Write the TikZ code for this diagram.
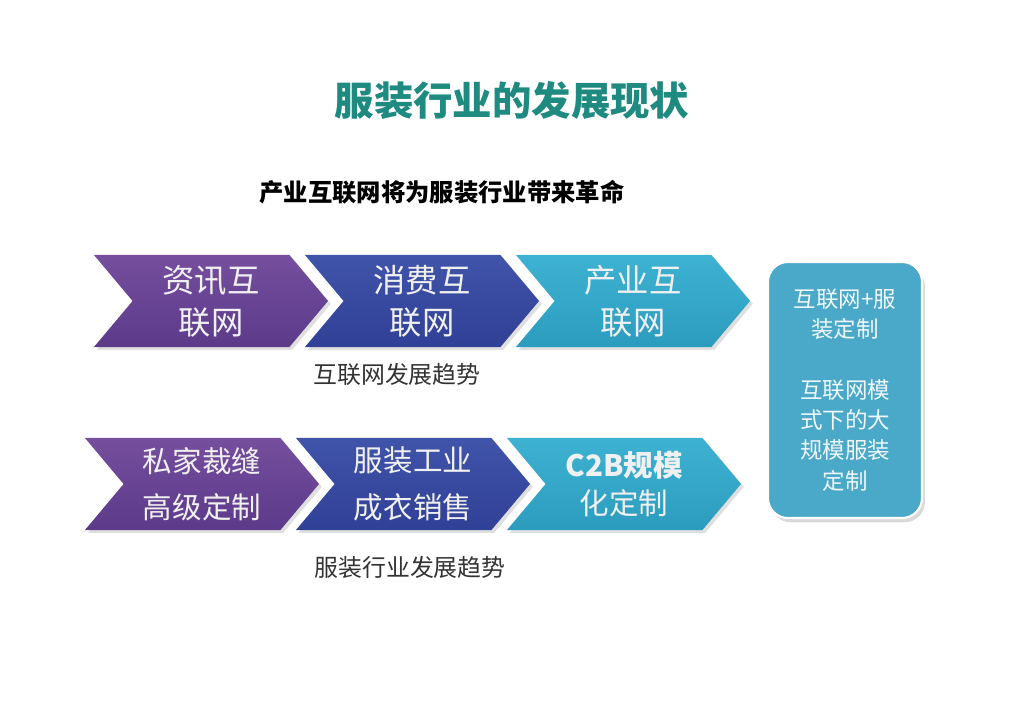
\documentclass[tikz,border=0pt]{standalone}
\usepackage{fontspec}
\setmainfont{Noto Sans CJK SC}
\usepackage{xcolor}
\usepackage{tikz}
\usetikzlibrary{positioning, shapes.symbols, shadows}
\definecolor{titleteal}{RGB}{30,138,128}
\definecolor{chvpurple}{RGB}{118,78,158}
\definecolor{chvpurpledk}{RGB}{92,58,138}
\definecolor{chvblue}{RGB}{64,84,170}
\definecolor{chvbluedk}{RGB}{48,64,150}
\definecolor{chvcyan}{RGB}{62,178,210}
\definecolor{chvcyandk}{RGB}{44,156,190}
\definecolor{boxcyan}{RGB}{74,168,200}

\begin{document}
\begin{tikzpicture}[x=0.025cm, y=-0.025cm,
    chevron/.style={shape=signal, signal to=east, signal from=west,
      signal pointer angle=100, minimum width=5.85cm, minimum height=2.3cm,
      inner sep=0pt, text=white!94!black, align=center,
      drop shadow={opacity=0.25, shadow xshift=2pt, shadow yshift=-2pt}},
    bigtxt/.style={font=\fontsize{23}{30}\selectfont},
    smalltxt/.style={font=\fontsize{21}{33}\selectfont},
    caption/.style={font=\fontsize{17}{20}\selectfont, text=black!80}]
  \useasboundingbox (0,0) rectangle (1024,724);

  % headings
  \node[font=\bfseries\fontsize{28}{32}\selectfont, text=titleteal] (title) at (512,101) {服装行业的发展现状};
  \node[font=\bfseries\fontsize{17.3}{20}\selectfont] (subtitle) at (442,192) {产业互联网将为服装行业带来革命};

  % internet row
  \node[chevron, bigtxt, top color=chvpurple, bottom color=chvpurpledk] (info) at (211,301) {资讯互\\联网};
  \node[chevron, bigtxt, top color=chvblue, bottom color=chvbluedk] (consume) at (422,301) {消费互\\联网};
  \node[chevron, bigtxt, top color=chvcyan, bottom color=chvcyandk] (industry) at (633,301) {产业互\\联网};
  \node[caption] (nettrend) at (397,374) {互联网发展趋势};

  % garment row
  \node[chevron, smalltxt, top color=chvpurple, bottom color=chvpurpledk] (tailor) at (202,484) {私家裁缝\\高级定制};
  \node[chevron, smalltxt, top color=chvblue, bottom color=chvbluedk] (ready) at (413,484) {服装工业\\成衣销售};
  \node[chevron, top color=chvcyan, bottom color=chvcyandk, font=\fontsize{21}{25}\selectfont] (ctob) at (624,484) {\textbf{C2B规模}\\[2pt]化定制};
  \node[caption] (garmtrend) at (410,567) {服装行业发展趋势};

  % summary box
  \node[draw=white, line width=1.5pt, fill=boxcyan, rounded corners=0.5cm,
        minimum width=3.85cm, minimum height=6.4cm, text width=3.3cm, align=center,
        text=white!92!boxcyan, font=\fontsize{16}{21.5}\selectfont,
        drop shadow={opacity=0.3, shadow xshift=2pt, shadow yshift=-3pt}] (summary) at (845,390)
    {互联网+服\\装定制\\[21.5pt]互联网模\\式下的大\\规模服装\\定制};
\end{tikzpicture}
\end{document}
